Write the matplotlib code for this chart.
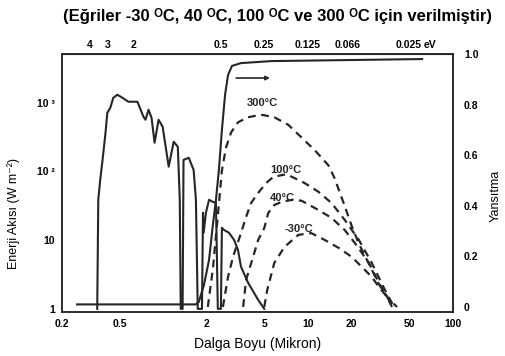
import numpy as np
import matplotlib
matplotlib.use('Agg')
import matplotlib.pyplot as plt

plt.rcParams['font.family'] = ['Liberation Sans', 'DejaVu Sans']
plt.rcParams['font.weight'] = 'bold'

INK = '#262626'

# gunes spektrumu (W m-2), sol log eksen
sun_lam = [0.35, 0.356, 0.367, 0.379, 0.398, 0.411, 0.431, 0.452, 0.482, 0.522,
           0.574, 0.663, 0.73, 0.754, 0.791, 0.83, 0.871, 0.928, 0.99, 1.09,
           1.18, 1.26, 1.30, 1.32, 1.36, 1.38, 1.50, 1.62, 1.68, 1.73,
           1.85, 1.88, 1.90, 1.97, 2.07, 2.20, 2.31, 2.38, 2.50, 2.54,
           2.62, 2.84, 3.08, 3.28, 3.44, 3.85, 4.52, 4.98]
sun_flux = [1, 39, 75, 133, 341, 713, 843, 1178, 1303, 1178,
            1031, 1031, 623, 564, 788, 603, 261, 564, 446, 117,
            270, 228, 39, 1, 1, 147, 158, 105, 39, 1,
            1, 25, 12.8, 25, 38.6, 36, 35, 1, 1, 15.1,
            14.1, 12.8, 10.1, 7.2, 4.1, 2.4, 1.35, 1]

# yansitma egrisi, sag eksen
refl_lam = [0.254, 1.68, 1.76, 1.91, 2.07, 2.20, 2.31, 2.42, 2.54, 2.67,
            2.80, 2.98, 3.44, 5.56, 61.2]
refl_val = [0.01, 0.01, 0.02, 0.087, 0.186, 0.324, 0.423, 0.54, 0.70, 0.838,
            0.917, 0.953, 0.964, 0.972, 0.98]

# kara cisim egrileri (bagil)
bb300_lam = [2.03, 2.2, 2.38, 2.54, 2.71, 2.94, 3.28, 3.85, 4.74, 5.84, 7.3,
             9.0, 11.1, 13.8, 15.2, 17.6, 20, 22.4, 26.3, 30.8, 36.1, 41.1]
bb300_val = [0, 0.15, 0.36, 0.54, 0.63, 0.69, 0.73, 0.75, 0.76, 0.75, 0.72,
             0.67, 0.62, 0.56, 0.51, 0.41, 0.32, 0.25, 0.17, 0.09, 0.03, 0]

bb100_lam = [2.58, 2.80, 3.03, 3.44, 3.73, 4.04, 4.52, 5.14, 5.74, 7.08,
             9.44, 11.8, 14.5, 17.9, 22.4, 27.5, 33.9, 39.2]
bb100_val = [0, 0.119, 0.198, 0.292, 0.356, 0.411, 0.451, 0.49, 0.514, 0.525,
             0.49, 0.455, 0.411, 0.344, 0.265, 0.174, 0.067, 0]

bb40_lam = [3.56, 3.73, 4.17, 4.52, 4.98, 5.31, 5.84, 6.53, 7.66, 9.0,
            11.8, 14.5, 17.9, 21.0, 26.3, 30.8, 36.1, 38.5]
bb40_val = [0, 0.107, 0.198, 0.265, 0.312, 0.372, 0.403, 0.415, 0.423, 0.42,
            0.383, 0.352, 0.304, 0.253, 0.174, 0.095, 0.028, 0]

bbm30_lam = [4.98, 5.22, 5.84, 6.86, 8.57, 10.5, 13.0, 16.3, 20, 23.5,
             27.5, 30.8, 35.0, 37.9]
bbm30_val = [0, 0.067, 0.174, 0.237, 0.285, 0.292, 0.265, 0.233, 0.198, 0.158,
             0.119, 0.079, 0.04, 0]

x_ticks = [0.2, 0.5, 2, 5, 10, 20, 50, 100]
x_labels = ['0.2', '0.5', '2', '5', '10', '20', '50', '100']
ev_vals = [4, 3, 2, 0.5, 0.25, 0.125, 0.066, 0.025]
ev_labels = ['4', '3', '2', '0.5', '0.25', '0.125', '0.066', '0.025']

fig = plt.figure(figsize=(5.05, 3.56), dpi=100)
ax = fig.add_axes([0.1228, 0.1236, 0.7742, 0.7247])
axr = ax.twinx()

ax.plot(sun_lam, sun_flux, color=INK, lw=1.5)
ax.set_xscale('log')
ax.set_yscale('log')
ax.set_xlim(0.2, 100)
ax.set_ylim(0.9, 5100)
ax.set_xticks(x_ticks, x_labels)
ax.xaxis.set_minor_locator(matplotlib.ticker.NullLocator())
ax.set_yticks([1, 10, 100, 1000], ['1', '10', '10 ²', '10 ³'])
ax.yaxis.set_minor_locator(matplotlib.ticker.NullLocator())
ax.tick_params(length=0, labelsize=7.5, pad=5)
ax.set_xlabel('Dalga Boyu (Mikron)', fontsize=10, labelpad=6)
ax.set_ylabel('Enerji Akısı (W m⁻²)', fontsize=9)
ax.yaxis.set_label_coords(-0.107, 0.38)

axr.plot(refl_lam, refl_val, color=INK, lw=1.5)
dash = dict(color=INK, lw=1.6, dashes=(3.5, 2.5))
axr.plot(bb300_lam, bb300_val, **dash)
axr.plot(bb100_lam, bb100_val, **dash)
axr.plot(bb40_lam, bb40_val, **dash)
axr.plot(bbm30_lam, bbm30_val, **dash)
axr.set_ylim(-0.02, 1.0)
axr.set_yticks([0, 0.2, 0.4, 0.6, 0.8, 1.0], ['0', '0.2', '0.4', '0.6', '0.8', '1.0'])
axr.tick_params(length=0, labelsize=7.5, pad=8)
axr.set_ylabel('Yansıtma', fontsize=9)
axr.yaxis.set_label_coords(1.095, 0.45)

axr.annotate('', xy=(5.7, 0.905), xytext=(3.05, 0.905),
             arrowprops=dict(arrowstyle='-|>', color=INK, lw=1.2,
                             mutation_scale=6))

lab = dict(fontsize=8, color=INK, ha='center', va='center')
axr.text(4.8, 0.805, '300°C', **lab)
axr.text(7.0, 0.54, '100°C', **lab)
axr.text(6.6, 0.43, '40°C', **lab)
axr.text(8.7, 0.31, '-30°C', **lab)

top = ax.secondary_xaxis('top')
top.set_xticks([1.24 / e for e in ev_vals], ev_labels)
top.tick_params(length=0, labelsize=7.5, pad=3)
top.xaxis.set_minor_locator(matplotlib.ticker.NullLocator())
ax.text(0.925, 1.015, 'eV', transform=ax.transAxes, fontsize=7.5,
        ha='left', va='bottom')

for a in (ax, axr):
    for s in a.spines.values():
        s.set_linewidth(1.1)
        s.set_color(INK)

fig.text(0.55, 0.955, '(Eğriler -30 ᴼC, 40 ᴼC, 100 ᴼC ve 300 ᴼC için verilmiştir)',
         ha='center', va='center', fontsize=12)

fig.savefig('out.png', dpi=100)
